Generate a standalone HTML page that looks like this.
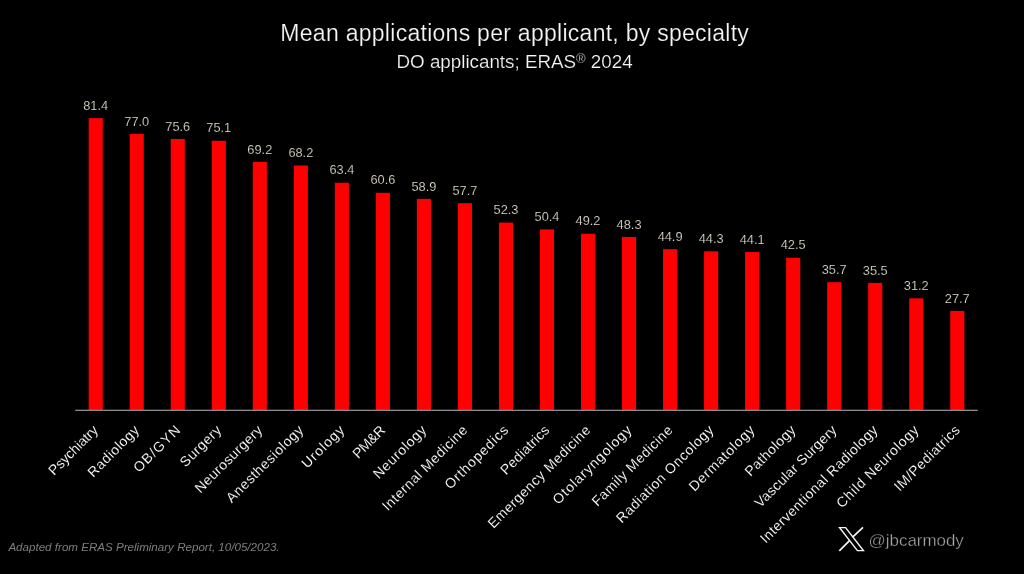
<!DOCTYPE html>
<html><head><meta charset="utf-8"><style>
html,body{margin:0;padding:0;background:#000;}
body{width:1024px;height:574px;overflow:hidden;}
svg{display:block;will-change:transform;}
text{font-family:"Liberation Sans", "DejaVu Sans", sans-serif;}
.v{font-size:12.8px;fill:#e6e1d2;text-anchor:middle;stroke:#000;stroke-width:0.2px;}
.l{font-size:14.0px;fill:#ffffff;text-anchor:end;stroke:#000;stroke-width:0.12px;}
.t{font-size:23.0px;fill:#f6f6f6;text-anchor:middle;stroke:#000;stroke-width:0.2px;}
.s{font-size:18.8px;fill:#f6f6f6;text-anchor:middle;stroke:#000;stroke-width:0.2px;}
.f{font-size:11.6px;fill:#7e7e7e;font-style:italic;}
.h{font-size:17.0px;fill:#a8a8a8;stroke:#000;stroke-width:0.35px;}
</style></head><body>
<svg width="1024" height="574" viewBox="0 0 1024 574">
<rect width="1024" height="574" fill="#000"/>
<text x="514.6" y="40.6" class="t" textLength="468.5" lengthAdjust="spacing">Mean applications per applicant, by specialty</text>
<text x="514.6" y="67.9" class="s">DO applicants; ERAS<tspan font-size="13" dy="-5">®</tspan><tspan dy="5"> 2024</tspan></text>
<rect x="88.66" y="118.12" width="14.10" height="292.23" fill="#ff0000"/>
<text x="95.71" y="109.72" class="v">81.4</text>
<text transform="translate(99.01 431.10) rotate(-45)" class="l" textLength="63.5" lengthAdjust="spacing">Psychiatry</text>
<rect x="129.69" y="133.92" width="14.10" height="276.43" fill="#ff0000"/>
<text x="136.74" y="125.52" class="v">77.0</text>
<text transform="translate(140.04 431.10) rotate(-45)" class="l" textLength="66.3" lengthAdjust="spacing">Radiology</text>
<rect x="170.72" y="138.95" width="14.10" height="271.40" fill="#ff0000"/>
<text x="177.77" y="130.55" class="v">75.6</text>
<text transform="translate(181.07 431.10) rotate(-45)" class="l" textLength="59.6" lengthAdjust="spacing">OB/GYN</text>
<rect x="211.75" y="140.74" width="14.10" height="269.61" fill="#ff0000"/>
<text x="218.80" y="132.34" class="v">75.1</text>
<text transform="translate(222.10 431.10) rotate(-45)" class="l" textLength="51.8" lengthAdjust="spacing">Surgery</text>
<rect x="252.77" y="161.92" width="14.10" height="248.43" fill="#ff0000"/>
<text x="259.82" y="153.52" class="v">69.2</text>
<text transform="translate(263.12 431.10) rotate(-45)" class="l" textLength="88.6" lengthAdjust="spacing">Neurosurgery</text>
<rect x="293.80" y="165.51" width="14.10" height="244.84" fill="#ff0000"/>
<text x="300.85" y="157.11" class="v">68.2</text>
<text transform="translate(304.15 431.10) rotate(-45)" class="l" textLength="102.3" lengthAdjust="spacing">Anesthesiology</text>
<rect x="334.83" y="182.74" width="14.10" height="227.61" fill="#ff0000"/>
<text x="341.88" y="174.34" class="v">63.4</text>
<text transform="translate(345.18 431.10) rotate(-45)" class="l" textLength="53.6" lengthAdjust="spacing">Urology</text>
<rect x="375.85" y="192.80" width="14.10" height="217.55" fill="#ff0000"/>
<text x="382.90" y="184.40" class="v">60.6</text>
<text transform="translate(386.20 431.10) rotate(-45)" class="l" textLength="39.7" lengthAdjust="spacing">PM&amp;R</text>
<rect x="416.88" y="198.90" width="14.10" height="211.45" fill="#ff0000"/>
<text x="423.93" y="190.50" class="v">58.9</text>
<text transform="translate(427.23 431.10) rotate(-45)" class="l" textLength="68.5" lengthAdjust="spacing">Neurology</text>
<rect x="457.91" y="203.21" width="14.10" height="207.14" fill="#ff0000"/>
<text x="464.96" y="194.81" class="v">57.7</text>
<text transform="translate(468.26 431.10) rotate(-45)" class="l" textLength="113.8" lengthAdjust="spacing">Internal Medicine</text>
<rect x="498.94" y="222.59" width="14.10" height="187.76" fill="#ff0000"/>
<text x="505.99" y="214.19" class="v">52.3</text>
<text transform="translate(509.29 431.10) rotate(-45)" class="l" textLength="83.4" lengthAdjust="spacing">Orthopedics</text>
<rect x="539.96" y="229.41" width="14.10" height="180.94" fill="#ff0000"/>
<text x="547.01" y="221.01" class="v">50.4</text>
<text transform="translate(550.31 431.10) rotate(-45)" class="l" textLength="62.7" lengthAdjust="spacing">Pediatrics</text>
<rect x="580.99" y="233.72" width="14.10" height="176.63" fill="#ff0000"/>
<text x="588.04" y="225.32" class="v">49.2</text>
<text transform="translate(591.34 431.10) rotate(-45)" class="l" textLength="138.5" lengthAdjust="spacing">Emergency Medicine</text>
<rect x="622.02" y="236.95" width="14.10" height="173.40" fill="#ff0000"/>
<text x="629.07" y="228.55" class="v">48.3</text>
<text transform="translate(632.37 431.10) rotate(-45)" class="l" textLength="104.7" lengthAdjust="spacing">Otolaryngology</text>
<rect x="663.05" y="249.16" width="14.10" height="161.19" fill="#ff0000"/>
<text x="670.10" y="240.76" class="v">44.9</text>
<text transform="translate(673.40 431.10) rotate(-45)" class="l" textLength="107.4" lengthAdjust="spacing">Family Medicine</text>
<rect x="704.07" y="251.31" width="14.10" height="159.04" fill="#ff0000"/>
<text x="711.12" y="242.91" class="v">44.3</text>
<text transform="translate(714.42 431.10) rotate(-45)" class="l" textLength="130.9" lengthAdjust="spacing">Radiation Oncology</text>
<rect x="745.10" y="252.03" width="14.10" height="158.32" fill="#ff0000"/>
<text x="752.15" y="243.63" class="v">44.1</text>
<text transform="translate(755.45 431.10) rotate(-45)" class="l" textLength="86.1" lengthAdjust="spacing">Dermatology</text>
<rect x="786.13" y="257.78" width="14.10" height="152.57" fill="#ff0000"/>
<text x="793.18" y="249.38" class="v">42.5</text>
<text transform="translate(796.48 431.10) rotate(-45)" class="l" textLength="65.0" lengthAdjust="spacing">Pathology</text>
<rect x="827.15" y="282.19" width="14.10" height="128.16" fill="#ff0000"/>
<text x="834.20" y="273.79" class="v">35.7</text>
<text transform="translate(837.50 431.10) rotate(-45)" class="l" textLength="109.1" lengthAdjust="spacing">Vascular Surgery</text>
<rect x="868.18" y="282.91" width="14.10" height="127.44" fill="#ff0000"/>
<text x="875.23" y="274.51" class="v">35.5</text>
<text transform="translate(878.53 431.10) rotate(-45)" class="l" textLength="159.6" lengthAdjust="spacing">Interventional Radiology</text>
<rect x="909.21" y="298.34" width="14.10" height="112.01" fill="#ff0000"/>
<text x="916.26" y="289.94" class="v">31.2</text>
<text transform="translate(919.56 431.10) rotate(-45)" class="l" textLength="109.8" lengthAdjust="spacing">Child Neurology</text>
<rect x="950.24" y="310.91" width="14.10" height="99.44" fill="#ff0000"/>
<text x="957.29" y="302.51" class="v">27.7</text>
<text transform="translate(960.59 431.10) rotate(-45)" class="l" textLength="86.1" lengthAdjust="spacing">IM/Pediatrics</text>
<rect x="75.2" y="409.7" width="902.60" height="1.3" fill="#8c8c8c"/>
<text x="8.4" y="551.0" class="f" textLength="271.2" lengthAdjust="spacing">Adapted from ERAS Preliminary Report, 10/05/2023.</text>
<g fill="none" stroke="#f4f4f4">
<path d="M839.6 527.6 L845.6 527.6 L863.4 550.6 L857.4 550.6 Z" stroke-width="1.45" stroke-linejoin="miter"/>
<path d="M863 527.3 L852.6 537.2 M839.3 550.9 L849.8 540.4" stroke-width="1.7"/>
</g>
<text x="868.6" y="546" class="h" textLength="95.2" lengthAdjust="spacingAndGlyphs">@jbcarmody</text>
</svg>
</body></html>
